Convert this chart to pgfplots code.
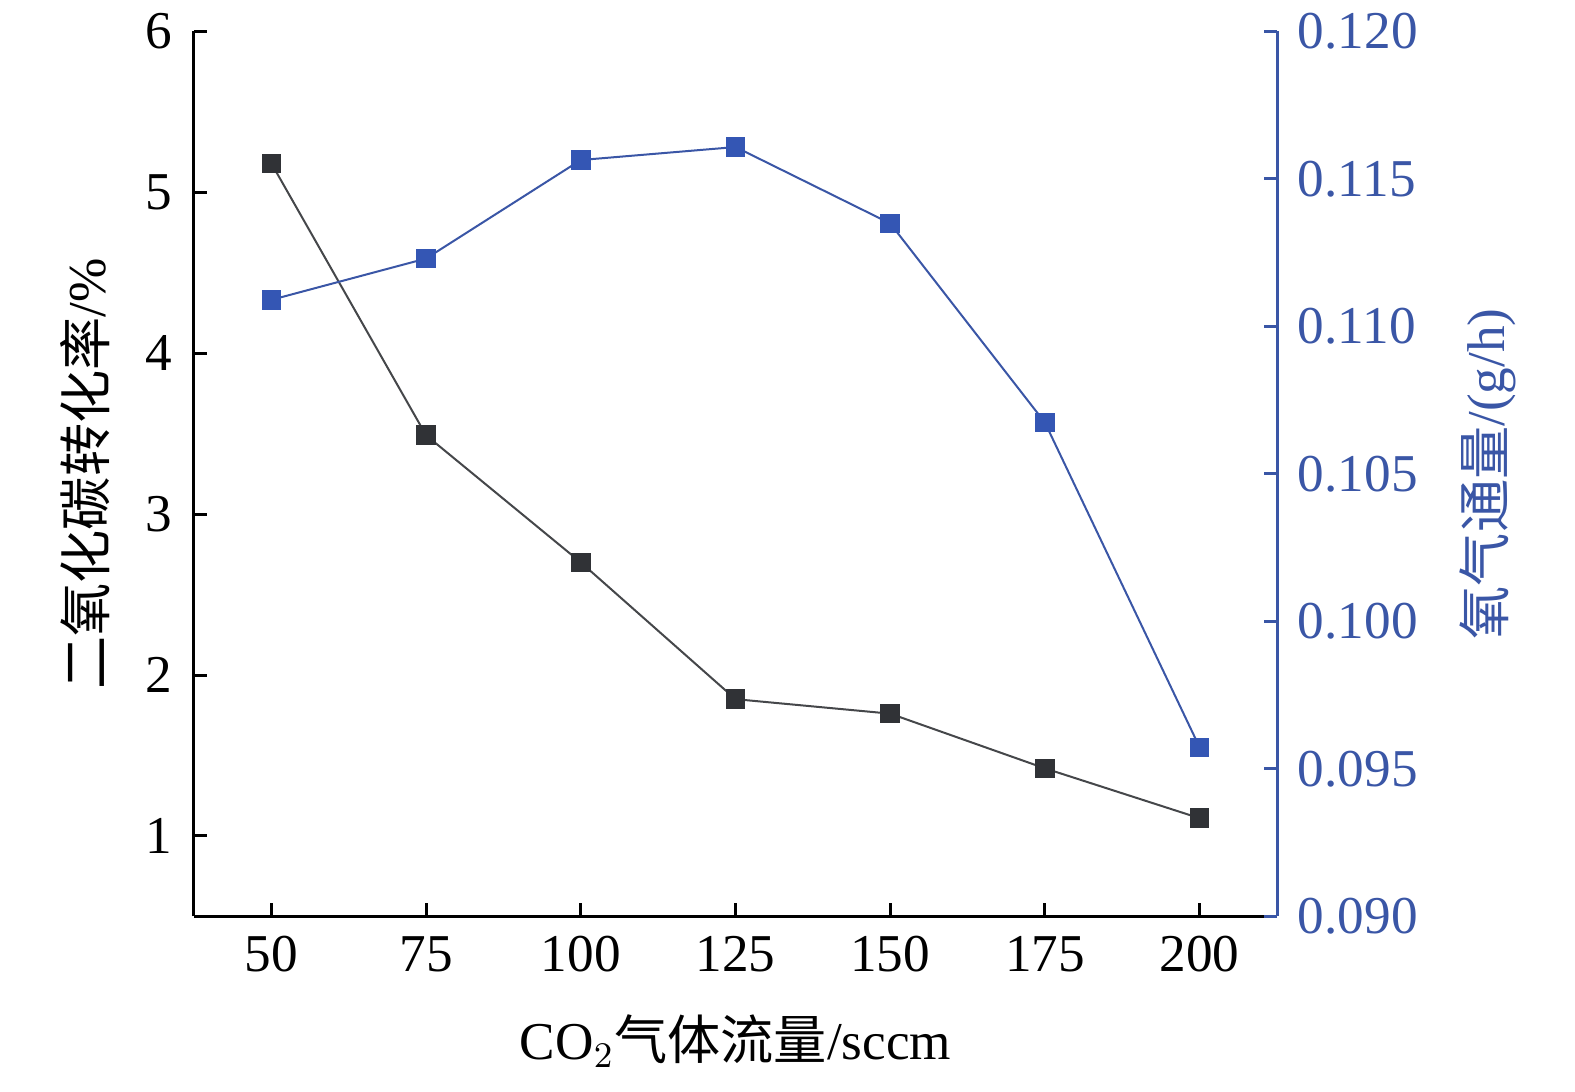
\documentclass[border=0pt]{standalone}
\usepackage{pgfplots}
\pgfplotsset{compat=1.18}
\usetikzlibrary{calc}
\usepackage{fontspec}
\setmainfont{Liberation Serif}
\newfontfamily\cjk{Noto Sans CJK SC}
\definecolor{axblue}{HTML}{3A56A6}
\definecolor{mkblue}{HTML}{3456B4}
\definecolor{mkblack}{HTML}{303236}
\begin{document}
\begin{tikzpicture}
\pgfplotsset{
  common/.style={
    scale only axis, width=270.75pt, height=221.25pt,
    xmin=37.5, xmax=212.5,
    /pgf/number format/assume math mode=true,
    tick label style={font=\fontsize{13.3}{16}\selectfont},
    label style={font=\fontsize{13.3}{16}\selectfont},
    major tick length=3.3pt,
    tick align=inside,
    axis line style={-, line width=0.75pt},
    clip=false,
  }
}
\begin{axis}[common, name=ax,
  axis x line*=bottom, axis y line*=left,
  xtick pos=bottom, ytick pos=left,
  ymin=0.5, ymax=6,
  xtick={50,75,100,125,150,175,200},
  ytick={1,2,3,4,5,6},
  xticklabel style={yshift=-1.5pt},
  yticklabel style={xshift=-2pt},
  xlabel={CO$_2${\cjk 气体流量}/sccm},
  ylabel={{\cjk 二氧化碳转化率}/\%},
  xlabel style={at={(axis description cs:0.5,-0.141)}, anchor=center},
  ylabel style={at={(axis description cs:-0.1006,0.5)}, anchor=center, rotate=0},
  every tick/.style={black, line width=0.75pt},
]
\addplot[color=mkblack!90, line width=0.5pt, mark=square*, mark size=2.2pt,
  mark options={fill=mkblack, draw=mkblack}]
  coordinates {(50,5.18) (75,3.49) (100,2.70) (125,1.85) (150,1.76) (175,1.42) (200,1.11)};
\end{axis}
\begin{axis}[common, at={(ax.south west)}, anchor=south west,
  axis x line=none, axis y line*=right, ytick pos=right,
  ymin=0.090, ymax=0.120,
  ytick={0.090,0.095,0.100,0.105,0.110,0.115,0.120},
  yticklabel pos=right,
  yticklabel style={color=axblue, xshift=1.7pt,
    /pgf/number format/.cd, fixed, fixed zerofill, precision=3},
  scaled y ticks=false,
  axis line style={-, line width=0.75pt, color=axblue},
  every tick/.style={axblue, line width=0.75pt},
  ylabel={{\cjk 氧气通量}/(g/h)},
  ylabel style={at={(axis description cs:1.195,0.5)}, anchor=center, rotate=0, color=axblue, font=\fontsize{13.3}{16}\selectfont},
]
\addplot[color=axblue, line width=0.5pt, mark=square*, mark size=2.2pt,
  mark options={fill=mkblue, draw=mkblue}]
  coordinates {(50,0.1109) (75,0.1123) (100,0.11564) (125,0.11608) (150,0.11349) (175,0.10674) (200,0.09573)};
\end{axis}
\path[use as bounding box] ($(ax.south west)+(-48.5pt,-43.75pt)$) rectangle ++(393.75pt,272pt);
\end{tikzpicture}
\end{document}
